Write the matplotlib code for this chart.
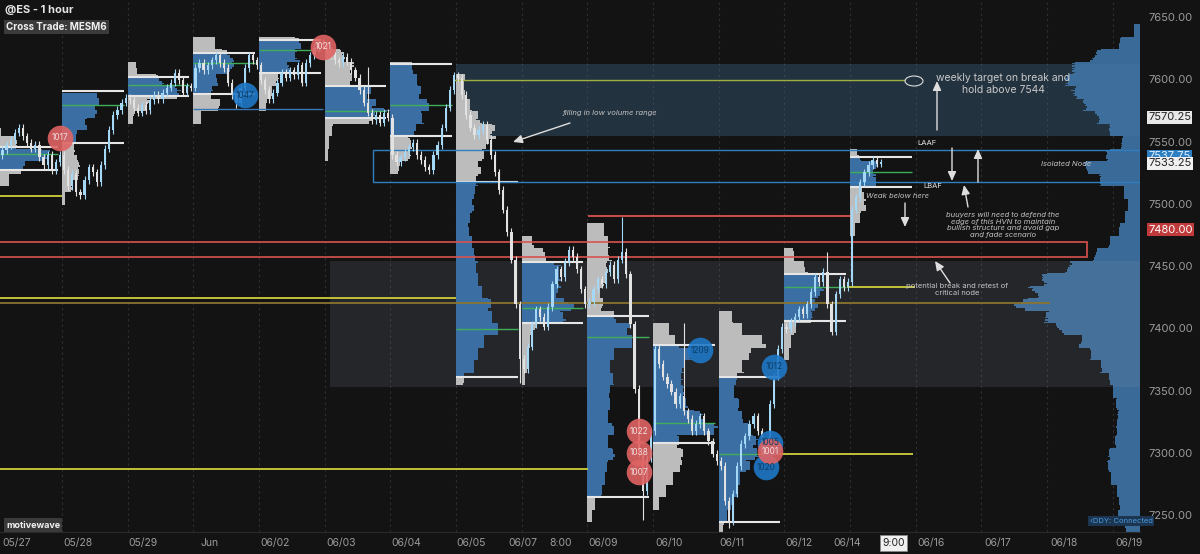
import numpy as np
import matplotlib
matplotlib.use('Agg')
import matplotlib.pyplot as plt
from matplotlib.patches import Rectangle, Ellipse
from matplotlib.lines import Line2D
import matplotlib.transforms as mtrans

plt.rcParams['font.family'] = ['Inter', 'DejaVu Sans']

# ---------------- data ----------------
SESSION_LABELS = ['05/27', '05/28', '05/29', 'Jun', '06/02', '06/03', '06/04', '06/05',
                  '06/07', '06/09', '06/10', '06/11', '06/12', '06/14']
FUTURE_LABELS = ['06/16', '06/17', '06/18', '06/19']
TIME_LABELS = ['8:00', '9:00']

# closes per session
c_0527 = [7540, 7544, 7548, 7552, 7558, 7562, 7555, 7550, 7545, 7548, 7538, 7532, 7540, 7528, 7534, 7540]
c_0528 = [7528, 7515, 7525, 7510, 7508, 7520, 7530, 7526, 7518, 7532, 7545, 7560, 7572, 7576, 7582, 7586]
c_0529 = [7584, 7578, 7574, 7580, 7576, 7584, 7588, 7585, 7590, 7594, 7598, 7606, 7600, 7590, 7595, 7594]
c_0601 = [7610, 7614, 7608, 7612, 7616, 7620, 7614, 7610, 7598, 7588, 7582, 7594, 7610, 7620, 7616, 7612]
c_0602 = [7600, 7592, 7585, 7590, 7598, 7606, 7602, 7608, 7604, 7612, 7598, 7614, 7620, 7626, 7630, 7628]
c_0603 = [7624, 7620, 7616, 7614, 7619, 7615, 7608, 7602, 7592, 7582, 7574, 7568, 7572, 7566, 7574, 7570]
c_0604 = [7540, 7534, 7538, 7542, 7546, 7550, 7540, 7536, 7530, 7528, 7540, 7548, 7562, 7578, 7592, 7604]
c_0605 = [7602, 7588, 7572, 7562, 7556, 7560, 7564, 7552, 7540, 7526, 7512, 7496, 7478, 7456, 7420, 7376]
c_0607 = [7368, 7386, 7404, 7416, 7410, 7402, 7418, 7436, 7448, 7442, 7454, 7464, 7458, 7448, 7432, 7420]
c_0609 = [7422, 7432, 7440, 7436, 7446, 7452, 7440, 7456, 7462, 7444, 7404, 7352, 7300, 7270, 7296, 7318]
c_0610 = [7384, 7372, 7362, 7356, 7350, 7340, 7346, 7334, 7328, 7318, 7324, 7330, 7318, 7310, 7300, 7294]
c_0611 = [7290, 7262, 7246, 7268, 7290, 7308, 7314, 7324, 7330, 7318, 7300, 7310, 7340, 7362, 7384, 7402]
c_0612 = [7400, 7406, 7410, 7416, 7412, 7420, 7430, 7442, 7438, 7446, 7420, 7398, 7428, 7440, 7434, 7438]
c_0614 = [7496, 7506, 7518, 7526, 7532, 7536, 7533, 7534]
CLOSES = [c_0527, c_0528, c_0529, c_0601, c_0602, c_0603, c_0604, c_0605,
          c_0607, c_0609, c_0610, c_0611, c_0612, c_0614]

# notable long wicks: (session, bar, price)
WICK_SESSION = [9, 11, 10, 12, 7, 5, 9, 3]
WICK_BAR = [13, 2, 7, 10, 15, 10, 8, 10]
WICK_PRICE = [7247, 7240, 7405, 7462, 7357, 7611, 7490, 7578]

# session volume profiles: top bin centre, relative volume per 10-pt bin (top -> down)
PROF_TOP = [7560, 7585, 7610, 7630, 7630, 7620, 7610, 7600, 7470, 7480, 7400, 7410, 7460, 7540]
p_0527 = [5, 20, 48, 30, 18]
p_0528 = [45, 40, 30, 18, 15, 18, 15, 10, 4]
p_0529 = [12, 35, 50, 20, 8]
p_0601 = [30, 40, 38, 28, 22, 34, 10]
p_0602 = [50, 45, 30, 18, 15, 10]
p_0603 = [18, 28, 30, 50, 60, 45, 10, 6, 4]
p_0604 = [30, 35, 38, 48, 40, 30, 22, 18, 10]
p_0605 = [10, 10, 18, 25, 35, 38, 32, 28, 25, 22, 20, 18, 15, 20, 22, 25, 28, 32, 40, 45, 52, 35, 28, 22, 10]
p_0607 = [15, 25, 35, 38, 40, 50, 42, 14, 10, 8, 6, 4]
p_0609 = [22, 27, 25, 20, 17, 15, 18, 35, 52, 58, 35, 30, 33, 28, 30, 27, 32, 25, 30, 24, 22, 18, 10, 6]
p_0610 = [20, 28, 40, 32, 28, 30, 33, 45, 58, 30, 35, 37, 28, 18, 8]
p_0611 = [18, 30, 55, 38, 30, 22, 20, 24, 25, 30, 35, 42, 32, 25, 20, 14, 10, 6]
p_0612 = [12, 25, 32, 35, 30, 26, 12, 9, 6]
p_0614 = [10, 25, 28, 15, 17, 12, 6]
PROFILES = [p_0527, p_0528, p_0529, p_0601, p_0602, p_0603, p_0604, p_0605,
            p_0607, p_0609, p_0610, p_0611, p_0612, p_0614]
VA_HI = [7546, 7591, 7603, 7622, 7632, 7595, 7613, 7518, 7454, 7411, 7387, 7362, 7444, 7538]
VA_LO = [7528, 7550, 7587, 7589, 7606, 7570, 7555, 7362, 7405, 7265, 7309, 7245, 7407, 7514]
POC = [7541, 7580, 7596, 7614, 7624, 7575, 7580, 7400, 7417, 7394, 7325, 7300, 7434, 7526]

# composite profile on the right edge (centres 7650 -> 7240, step 10)
COMP_TOP = 7650
comp_vol = [0, 6, 20, 38, 50, 55, 50, 45, 36, 26, 15, 25, 42, 35, 15, 12, 15, 20, 30, 40, 60, 75,
            90, 100, 80, 70, 55, 45, 35, 28, 25, 22, 20, 20, 22, 28, 30, 28, 22, 20, 22, 15]

# large trade bubbles: session, bar, price, size, side
BUB_SESSION = [0, 4, 3, 10, 11, 9, 9, 9, 11, 11, 11]
BUB_BAR = [15, 15, 12, 11, 13, 12, 12, 12, 12, 11, 12]
BUB_PRICE = [7554, 7627, 7588, 7383, 7370, 7318, 7301, 7285, 7309, 7289, 7302]
BUB_SIZE = ['1017', '1021', '1047', '1209', '1012', '1022', '1038', '1007', '1005', '1020', '1001']
BUB_SIDE = ['s', 's', 'b', 'b', 'b', 's', 's', 's', 'b', 'b', 's']

# key price levels
AXIS_TICKS = [7650, 7600, 7550, 7500, 7450, 7400, 7350, 7300, 7250]
LAST_PRICE = 7533.25
TAG_PRICES = [7570.25, 7537.75, 7480.00]

# ---------------- layout helpers ----------------
PX_PER_SESSION = 65.67
def X(px):
    return (px + 3.67) / PX_PER_SESSION
def Yp(py):
    return 7650 - (py - 18) / 1.245

BG = '#131313'
BLUE = '#3b6fa3'
GRAY = '#bcbcbc'
UP = '#a4d8f6'
DN = '#e2e2e2'
YEL = '#cfcf3a'
N = 16

# ---- build candles (OHLC) from closes ----
candles = []  # (k, j, o, h, l, c)
prev = CLOSES[0][0]
for k, cl in enumerate(CLOSES):
    for j, c in enumerate(cl):
        o = prev
        hi = max(o, c) + 3
        lo = min(o, c) - 3
        for s, b, p in zip(WICK_SESSION, WICK_BAR, WICK_PRICE):
            if s == k and b == j:
                hi = max(hi, p)
                lo = min(lo, p)
        candles.append((k, j, o, hi, lo, c))
        prev = c

# time-at-price per session at 1-pt resolution (texture for profiles)
PMIN, PMAX = 7200, 7700
grid = np.arange(PMIN, PMAX)
tpo = np.zeros((len(CLOSES), grid.size))
for k, j, o, h, l, c in candles:
    tpo[k] += (grid >= l) & (grid <= h)

fig = plt.figure(figsize=(12, 5.54), dpi=100, facecolor=BG)
ax = fig.add_axes([0, 22 / 554, 1140 / 1200, 532 / 554])
ax.set_facecolor(BG)
ax.set_xlim(X(0), X(1140))
ax.set_ylim(Yp(532), Yp(0))
ax.axis('off')

# vertical dashed grid at session boundaries
for k in range(1, 18):
    ax.axvline(k, color='#303030', lw=0.8, ls=(0, (2, 3)), zorder=0.5)

# composite profile (1-pt slices, textured by total time-at-price)
tot = tpo.sum(axis=0)
tot = tot / tot.max()
xr = X(1140)
ys, ws = [], []
for i, v in enumerate(comp_vol):
    c = COMP_TOP - 10 * i
    for y in range(c - 5, c + 5):
        t = tot[y - PMIN]
        ys.append(y)
        ws.append(v * (0.8 + 0.35 * t) * 1.2 / PX_PER_SESSION)
ws = np.array(ws)
ax.barh(ys, ws, height=1, left=xr - ws, align='edge', color='#3a6a98', lw=0, zorder=1)

# zones
ax.add_patch(Rectangle((X(456), 7555), X(1140) - X(456), 7613 - 7555, facecolor='#4a7aa8',
                       alpha=0.30, lw=0, zorder=2))
ax.add_patch(Rectangle((X(330), 7354), X(1140) - X(330), 7455 - 7354, facecolor='#8899aa',
                       alpha=0.15, lw=0, zorder=2))

# session profiles (1-pt slices)
for k, (top, vols) in enumerate(zip(PROF_TOP, PROFILES)):
    t = tpo[k] / max(tpo[k].max(), 1)
    ys, ws, cs = [], [], []
    for i, v in enumerate(vols):
        c = top - 10 * i
        for y in range(c - 5, c + 5):
            ys.append(y)
            ws.append(v * (0.72 + 0.4 * t[y - PMIN]) / PX_PER_SESSION)
            cs.append(BLUE if VA_LO[k] <= y + 0.5 <= VA_HI[k] else GRAY)
    ax.barh(ys, ws, height=1, left=k, align='edge', color=cs, lw=0, zorder=3)
    ax.hlines([VA_HI[k], VA_LO[k]], k, k + 0.94, color='#e6e6e6', lw=1.5, zorder=4)
    ax.hlines(POC[k], k, k + 0.94, color='#3fae5a', lw=1.0, zorder=4)

# level lines
def hl(price, px0, px1, color, lw=1.3):
    ax.hlines(price, X(px0), X(px1), color=color, lw=lw, zorder=4)

hl(7507, 0, 62, YEL)
hl(7600, 453, 905, '#9fb040', 1.0)
hl(7425, 0, 456, YEL)
hl(7421, 0, 1050, '#8a7430', 1.3)
hl(7288, 0, 588, YEL)
hl(7300, 780, 913, YEL)
hl(7434, 847, 915, YEL)
hl(7491, 588, 850, '#d9534f', 1.3)
hl(7577, 193, 323, '#3a78b5', 1.0)

# outlined rectangles
ax.add_patch(Rectangle((X(373), 7518), X(1140) - X(373), 7544 - 7518, fill=False,
                       edgecolor='#2f7fc0', lw=1.0, zorder=4))
ax.add_patch(Rectangle((X(-5), 7458), X(1087) - X(-5), 7470 - 7458, fill=False,
                       edgecolor='#d9534f', lw=1.2, zorder=4))

# candles
for k, j, o, h, l, c in candles:
    x = k + (j + 0.5) / N
    col = UP if c >= o else DN
    ax.vlines(x, l, h, color=col, lw=0.8, zorder=5)
    ax.add_patch(Rectangle((x - 0.017, min(o, c)), 0.034, max(abs(c - o), 0.6),
                           facecolor=col, lw=0, zorder=5))

# bubbles
for s, b, p, lab, side in zip(BUB_SESSION, BUB_BAR, BUB_PRICE, BUB_SIZE, BUB_SIDE):
    x = s + (b + 0.5) / N
    col = '#e06464' if side == 's' else '#1f78c8'
    ax.scatter([x], [p], s=340, color=col, alpha=0.9, lw=0, zorder=6 if side == 'b' else 6.5)
    ax.text(x, p, lab, ha='center', va='center', fontsize=6,
            color='#f2dede' if side == 's' else '#0d3d66', zorder=7)

# cloud mark
ax.add_patch(Ellipse((X(914), Yp(81)), X(932) - X(914), 8, fill=False, edgecolor='#dddddd',
                     lw=0.8, zorder=7))

# annotations
AC = '#dedede'
def arrow(x0, y0, x1, y1):
    ax.annotate('', xy=(X(x1), Yp(y1)), xytext=(X(x0), Yp(y0)),
                arrowprops=dict(arrowstyle='-|>,head_length=0.55,head_width=0.25', color=AC,
                                lw=1.0, shrinkA=0, shrinkB=0), zorder=8)

def note(px, py, s, size=5.5, italic=True, color='#c4c4c4', ls=1.25):
    ax.text(X(px), Yp(py), s, ha='center', va='center', fontsize=size, color=color,
            style='italic' if italic else 'normal', linespacing=ls, zorder=8)

note(610, 113, 'filling in low volume range')
arrow(570, 123, 513, 142)
note(1003, 84, 'weekly target on break and\nhold above 7544', size=7.5, italic=False, color='#c8c8c8', ls=1.15)
arrow(937, 130, 937, 81)
note(927, 143, 'LAAF', size=5.5, italic=False, color='#e6e6e6')
note(933, 186, 'LBAF', size=5.5, italic=False, color='#e6e6e6')
arrow(952, 148, 952, 181)
arrow(978, 182, 978, 149)
note(1066, 164, 'Isolated Node', size=5.5)
note(898, 196, 'Weak below here', size=5.5)
arrow(905, 203, 905, 227)
arrow(968, 207, 964, 185)
note(1003, 225, 'buuyers will need to defend the\nedge of this HVN to maintain\nbullish structure and avoid gap\nand fade scenario',
     size=5.5, ls=1.1)
note(957, 289, 'potential break and retest of\ncritical node', size=5.5, italic=False, ls=1.2)
arrow(950, 283, 935, 261)

# ---------------- axes text ----------------
tr_y = mtrans.blended_transform_factory(fig.transFigure, ax.transData)
for p in AXIS_TICKS:
    fig.text(1148 / 1200, p, f'{p:.2f}', transform=tr_y, color='#9b9b9b', fontsize=8,
             va='center', ha='left')
fig.text(1148 / 1200, TAG_PRICES[0], f'{TAG_PRICES[0]:.2f}', transform=tr_y, color='#222222',
         fontsize=8, va='center', ha='left',
         bbox=dict(boxstyle='square,pad=0.12', facecolor='#e8e8e8', edgecolor='none'))
# blue tag partly hidden behind the last-price tag, as in the platform
fig.text(1148 / 1200, TAG_PRICES[1] + 1.5, f'{TAG_PRICES[1]:.2f}', transform=tr_y, color='#e8f2ff',
         fontsize=8, va='center', ha='left',
         bbox=dict(boxstyle='square,pad=0.12', facecolor='#2d7fc1', edgecolor='none'))
fig.text(1148 / 1200, LAST_PRICE, f'{LAST_PRICE:.2f}', transform=tr_y, color='#222222',
         fontsize=8, va='center', ha='left',
         bbox=dict(boxstyle='square,pad=0.12', facecolor='#f0f0f0', edgecolor='none'))
fig.text(1148 / 1200, TAG_PRICES[2], f'{TAG_PRICES[2]:.2f}', transform=tr_y, color='#ffffff',
         fontsize=8, va='center', ha='left',
         bbox=dict(boxstyle='square,pad=0.12', facecolor='#c0393b', edgecolor='none'))

tr_x = mtrans.blended_transform_factory(ax.transData, fig.transFigure)
ylab = 1 - 543 / 554
day_pos = [X(2), 1.24, 2.24, 3.24, 4.24, 5.25, 6.24, 7.23, 8.02, 9.24, 10.24, 11.2, 12.22, 12.95]
for i, (lab, xp) in enumerate(zip(SESSION_LABELS, day_pos)):
    fig.text(xp, ylab, lab, transform=tr_x, ha='left' if i == 0 else 'center', va='center',
             color='#9b9b9b', fontsize=7.5)
for lab, xp in zip(FUTURE_LABELS, [14.23, 15.25, 16.26, 17.25]):
    fig.text(xp, ylab, lab, transform=tr_x, ha='center', va='center', color='#9b9b9b', fontsize=7.5)
fig.text(8.6, ylab, TIME_LABELS[0], transform=tr_x, ha='center', va='center', color='#9b9b9b', fontsize=7.5)
fig.text(13.66, ylab, TIME_LABELS[1], transform=tr_x, ha='center', va='center', color='#222222',
         fontsize=7.5, bbox=dict(boxstyle='square,pad=0.25', facecolor='#f0f0f0', edgecolor='#888888', lw=0.6))

fig.add_artist(Line2D([0, 1140 / 1200], [22 / 554, 22 / 554], color='#2a2a2a', lw=0.8))

fig.text(5 / 1200, 1 - 10 / 554, '@ES - 1 hour', color='#e6e6e6', fontsize=8, fontweight='bold',
         va='center', ha='left')
fig.text(6 / 1200, 1 - 27 / 554, 'Cross Trade: MESM6', color='#f0f0f0', fontsize=7, fontweight='bold',
         va='center', ha='left', bbox=dict(boxstyle='square,pad=0.25', facecolor='#3a3a3a', edgecolor='none'))
fig.text(6 / 1200, 1 - 525 / 554, 'motivewave', color='#f0f0f0', fontsize=6.5, fontweight='bold',
         va='center', ha='left', bbox=dict(boxstyle='square,pad=0.25', facecolor='#3a3a3a', edgecolor='none'))
fig.text(1090 / 1200, 1 - 521 / 554, '‹DDY: Connected', color='#4a9ae0', fontsize=5.5,
         va='center', ha='left',
         bbox=dict(boxstyle='square,pad=0.2', facecolor='#1c3550', edgecolor='none'))

fig.savefig('out.png', dpi=100, facecolor=BG)
